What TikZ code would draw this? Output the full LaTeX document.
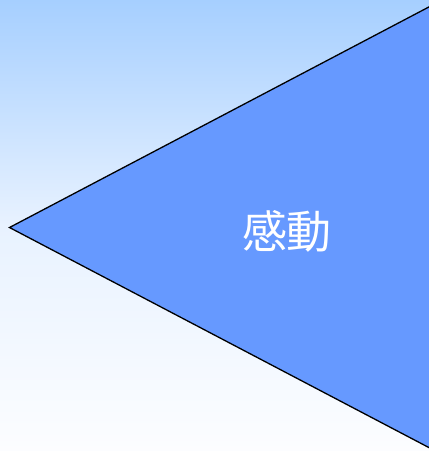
\documentclass[tikz,border=0pt]{standalone}
\usepackage{fontspec}
\newfontfamily\cjk{Noto Sans CJK JP}
\definecolor{bgtop}{RGB}{166,207,255}
\definecolor{bgmid}{RGB}{232,242,255}
\definecolor{bgbot}{RGB}{252,253,255}
\definecolor{trifill}{RGB}{102,153,255}
\tikzset{
  tri/.style={fill=trifill, draw=black, line width=1.3pt, line join=miter},
  lbl/.style={text=white, font=\cjk\fontsize{45}{54}\selectfont, inner sep=0pt}
}
\begin{document}
\begin{tikzpicture}[x=1pt,y=-1pt]
\useasboundingbox (0,0) rectangle (429,451);
\shade[top color=bgtop, bottom color=bgbot, middle color=bgmid] (0,0) rectangle (429,451);
\begin{scope}
\clip (0,0) rectangle (429,451);
\draw[tri] (9.5,227.5) -- (445,-1.5) -- (445,456) -- cycle;
\end{scope}
\node[lbl] (t) at (287,231) {感動};
\end{tikzpicture}
\end{document}
